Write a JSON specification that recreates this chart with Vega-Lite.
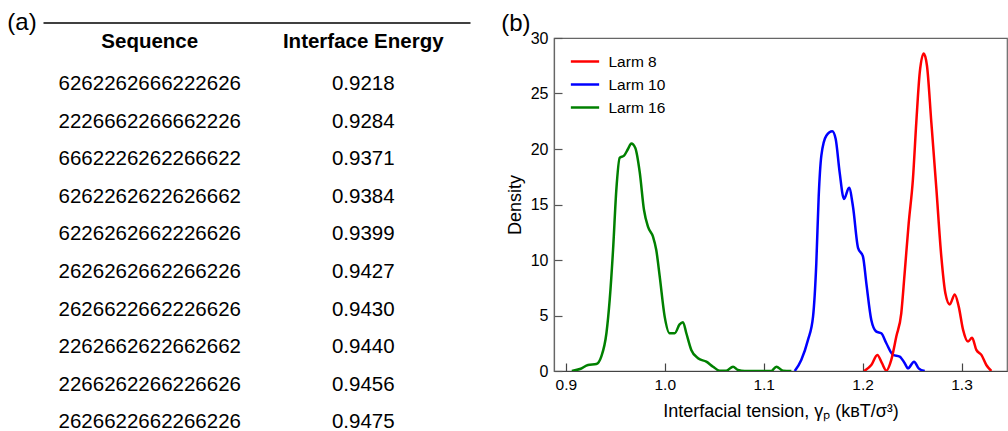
{
  "$schema": "https://vega.github.io/schema/vega-lite/v6.json",
  "padding": {"left": 7, "top": 10, "right": 0, "bottom": 0},
  "autosize": {"type": "pad"},
  "spacing": 84,
  "bounds": "flush",
  "resolve": {"legend": {"color": "independent"}, "scale": {"color": "independent"}},
  "config": {
    "font": "Liberation Sans",
    "view": {"stroke": null},
    "title": {"fontWeight": "normal", "fontSize": 24, "color": "#000", "font": "Liberation Sans"}
  },
  "hconcat": [
    {
      "width": 427,
      "height": 393,
      "title": {"text": "(a)", "orient": "left", "anchor": "end", "frame": "group", "angle": 0, "align": "right", "baseline": "middle", "offset": 9, "dx": 32, "dy": -15.5},
      "data": {"values": [
        {"row": 1, "Sequence": "6262262666222626", "Energy": 0.9218},
        {"row": 2, "Sequence": "2226662266662226", "Energy": 0.9284},
        {"row": 3, "Sequence": "6662226262266622", "Energy": 0.9371},
        {"row": 4, "Sequence": "6262262622626662", "Energy": 0.9384},
        {"row": 5, "Sequence": "6226262662226626", "Energy": 0.9399},
        {"row": 6, "Sequence": "2626262662266226", "Energy": 0.9427},
        {"row": 7, "Sequence": "2626622662226626", "Energy": 0.9430},
        {"row": 8, "Sequence": "2262662622662662", "Energy": 0.9440},
        {"row": 9, "Sequence": "2266262266226626", "Energy": 0.9456},
        {"row": 10, "Sequence": "2626622662266226", "Energy": 0.9475}
      ]},
      "layer": [
        {
          "data": {"values": [{"col": "Sequence"}, {"col": "Interface Energy"}]},
          "mark": {"type": "text", "fontWeight": "bold", "fontSize": 20.5, "baseline": "middle", "color": "#000"},
          "encoding": {
            "x": {"field": "col", "type": "nominal", "sort": null,
                  "scale": {"type": "point", "domain": ["Sequence", "Interface Energy"], "padding": 0.5},
                  "axis": {"orient": "top", "offset": 15.5, "domain": true, "domainColor": "#000", "domainWidth": 1.3, "ticks": false, "labels": false, "title": null, "grid": false}},
            "y": {"datum": -0.103, "type": "quantitative", "scale": {"domain": [-0.221, 10.231], "reverse": true, "nice": false, "zero": false}, "axis": null},
            "text": {"field": "col"}
          }
        },
        {
          "mark": {"type": "text", "fontSize": 20.5, "baseline": "middle", "color": "#000"},
          "encoding": {
            "x": {"datum": "Sequence", "type": "nominal"},
            "y": {"field": "row", "type": "quantitative"},
            "text": {"field": "Sequence"}
          }
        },
        {
          "mark": {"type": "text", "fontSize": 20.5, "baseline": "middle", "color": "#000"},
          "encoding": {
            "x": {"datum": "Interface Energy", "type": "nominal"},
            "y": {"field": "row", "type": "quantitative"},
            "text": {"field": "Energy", "type": "quantitative", "format": ".4f"}
          }
        }
      ]
    },
    {
      "width": 453,
      "height": 333,
      "view": {"stroke": "#666", "strokeWidth": 1.2},
      "title": {"text": "(b)", "anchor": "start", "frame": "bounds", "offset": -6, "dx": -5},
      "data": {"values": [
        {"series": "Larm 16", "x": 0.906, "y": 0},
        {"series": "Larm 16", "x": 0.915, "y": 0.2},
        {"series": "Larm 16", "x": 0.9224, "y": 0.54},
        {"series": "Larm 16", "x": 0.9308, "y": 0.63},
        {"series": "Larm 16", "x": 0.9358, "y": 1.3},
        {"series": "Larm 16", "x": 0.941, "y": 3.4},
        {"series": "Larm 16", "x": 0.9443, "y": 6.4},
        {"series": "Larm 16", "x": 0.9477, "y": 10.9},
        {"series": "Larm 16", "x": 0.951, "y": 16.3},
        {"series": "Larm 16", "x": 0.9544, "y": 19.2},
        {"series": "Larm 16", "x": 0.9588, "y": 19.4},
        {"series": "Larm 16", "x": 0.9628, "y": 20.0},
        {"series": "Larm 16", "x": 0.9662, "y": 20.5},
        {"series": "Larm 16", "x": 0.9702, "y": 20.1},
        {"series": "Larm 16", "x": 0.9747, "y": 17.9},
        {"series": "Larm 16", "x": 0.979, "y": 14.5},
        {"series": "Larm 16", "x": 0.983, "y": 13.0},
        {"series": "Larm 16", "x": 0.9881, "y": 12.1},
        {"series": "Larm 16", "x": 0.9914, "y": 10.9},
        {"series": "Larm 16", "x": 0.9949, "y": 8.5},
        {"series": "Larm 16", "x": 0.9999, "y": 4.9},
        {"series": "Larm 16", "x": 1.0049, "y": 3.4},
        {"series": "Larm 16", "x": 1.01, "y": 3.4},
        {"series": "Larm 16", "x": 1.015, "y": 4.2},
        {"series": "Larm 16", "x": 1.0184, "y": 4.4},
        {"series": "Larm 16", "x": 1.0218, "y": 3.4},
        {"series": "Larm 16", "x": 1.0268, "y": 1.9},
        {"series": "Larm 16", "x": 1.0336, "y": 1.15},
        {"series": "Larm 16", "x": 1.042, "y": 0.84},
        {"series": "Larm 16", "x": 1.0488, "y": 0.39},
        {"series": "Larm 16", "x": 1.0555, "y": 0.03},
        {"series": "Larm 16", "x": 1.0622, "y": 0.03},
        {"series": "Larm 16", "x": 1.069, "y": 0.39},
        {"series": "Larm 16", "x": 1.074, "y": 0.09},
        {"series": "Larm 16", "x": 1.0808, "y": 0},
        {"series": "Larm 16", "x": 1.1077, "y": 0},
        {"series": "Larm 16", "x": 1.1128, "y": 0.39},
        {"series": "Larm 16", "x": 1.1195, "y": 0.03},
        {"series": "Larm 16", "x": 1.128, "y": 0},
        {"series": "Larm 10", "x": 1.1314, "y": 0},
        {"series": "Larm 10", "x": 1.138, "y": 1.0},
        {"series": "Larm 10", "x": 1.1448, "y": 2.8},
        {"series": "Larm 10", "x": 1.1499, "y": 4.9},
        {"series": "Larm 10", "x": 1.1532, "y": 9.7},
        {"series": "Larm 10", "x": 1.1556, "y": 15.7},
        {"series": "Larm 10", "x": 1.1583, "y": 19.4},
        {"series": "Larm 10", "x": 1.1633, "y": 21.2},
        {"series": "Larm 10", "x": 1.1694, "y": 21.6},
        {"series": "Larm 10", "x": 1.1728, "y": 20.9},
        {"series": "Larm 10", "x": 1.1768, "y": 17.9},
        {"series": "Larm 10", "x": 1.1812, "y": 15.5},
        {"series": "Larm 10", "x": 1.1863, "y": 16.5},
        {"series": "Larm 10", "x": 1.1903, "y": 14.8},
        {"series": "Larm 10", "x": 1.1954, "y": 11.1},
        {"series": "Larm 10", "x": 1.2004, "y": 10.3},
        {"series": "Larm 10", "x": 1.2038, "y": 7.9},
        {"series": "Larm 10", "x": 1.2088, "y": 4.6},
        {"series": "Larm 10", "x": 1.2139, "y": 3.55},
        {"series": "Larm 10", "x": 1.2189, "y": 3.4},
        {"series": "Larm 10", "x": 1.224, "y": 2.5},
        {"series": "Larm 10", "x": 1.2308, "y": 1.45},
        {"series": "Larm 10", "x": 1.2375, "y": 1.3},
        {"series": "Larm 10", "x": 1.2426, "y": 0.7},
        {"series": "Larm 10", "x": 1.2459, "y": 0.24},
        {"series": "Larm 10", "x": 1.252, "y": 0.84},
        {"series": "Larm 10", "x": 1.2567, "y": 0.24},
        {"series": "Larm 10", "x": 1.2628, "y": 0},
        {"series": "Larm 8", "x": 1.2015, "y": 0},
        {"series": "Larm 8", "x": 1.2088, "y": 0.54},
        {"series": "Larm 8", "x": 1.2149, "y": 1.45},
        {"series": "Larm 8", "x": 1.2196, "y": 0.7},
        {"series": "Larm 8", "x": 1.224, "y": 0.03},
        {"series": "Larm 8", "x": 1.229, "y": 1.0},
        {"series": "Larm 8", "x": 1.2341, "y": 3.1},
        {"series": "Larm 8", "x": 1.2391, "y": 5.2},
        {"series": "Larm 8", "x": 1.2425, "y": 8.8},
        {"series": "Larm 8", "x": 1.2466, "y": 13.3},
        {"series": "Larm 8", "x": 1.2509, "y": 17.3},
        {"series": "Larm 8", "x": 1.2543, "y": 22.4},
        {"series": "Larm 8", "x": 1.2578, "y": 26.9},
        {"series": "Larm 8", "x": 1.2618, "y": 28.6},
        {"series": "Larm 8", "x": 1.2651, "y": 27.5},
        {"series": "Larm 8", "x": 1.2695, "y": 22.4},
        {"series": "Larm 8", "x": 1.2746, "y": 16.4},
        {"series": "Larm 8", "x": 1.2796, "y": 10.3},
        {"series": "Larm 8", "x": 1.2837, "y": 7.0},
        {"series": "Larm 8", "x": 1.2881, "y": 6.0},
        {"series": "Larm 8", "x": 1.2932, "y": 6.9},
        {"series": "Larm 8", "x": 1.2972, "y": 5.8},
        {"series": "Larm 8", "x": 1.3016, "y": 3.7},
        {"series": "Larm 8", "x": 1.3066, "y": 2.65},
        {"series": "Larm 8", "x": 1.3107, "y": 3.0},
        {"series": "Larm 8", "x": 1.315, "y": 1.9},
        {"series": "Larm 8", "x": 1.3201, "y": 1.45},
        {"series": "Larm 8", "x": 1.3251, "y": 0.54},
        {"series": "Larm 8", "x": 1.3302, "y": 0}
      ]},
      "mark": {"type": "line", "interpolate": "monotone", "strokeWidth": 2.5, "clip": true},
      "encoding": {
        "x": {"field": "x", "type": "quantitative",
              "scale": {"domain": [0.888, 1.346], "nice": false, "zero": false},
              "axis": {"values": [0.9, 1.0, 1.1, 1.2, 1.3], "format": ".1f", "grid": false, "tickSize": -8, "tickColor": "#444", "tickWidth": 1.2, "domainColor": "#444", "domainWidth": 1.2, "labelFontSize": 15.5, "labelPadding": 14, "labelColor": "#000", "labelFlush": false, "title": "Interfacial tension, γₚ (kʙT/σ³)", "titleFontSize": 18, "titleFontWeight": "normal", "titleColor": "#000", "titlePadding": 10}},
        "y": {"field": "y", "type": "quantitative",
              "scale": {"domain": [0, 30], "nice": false},
              "axis": {"values": [0, 5, 10, 15, 20, 25, 30], "grid": false, "tickSize": -8, "tickColor": "#555", "tickWidth": 1.2, "domainColor": "#666", "domainWidth": 1.2, "labelFontSize": 16, "labelPadding": 14, "labelColor": "#000", "labelFlush": false, "title": "Density", "titleFontSize": 18, "titleFontWeight": "normal", "titleColor": "#000", "titlePadding": 6}},
        "color": {"field": "series", "type": "nominal",
                  "scale": {"domain": ["Larm 8", "Larm 10", "Larm 16"], "range": ["#ff0000", "#0000ff", "#008000"]},
                  "legend": {"orient": "none", "legendX": 15.5, "legendY": 15.5, "title": null, "padding": 0, "symbolType": "stroke", "symbolSize": 800, "symbolStrokeWidth": 2.5, "labelFontSize": 15.5, "labelColor": "#000", "labelOffset": 8, "rowPadding": 6, "clipHeight": 16}}
      }
    }
  ]
}
